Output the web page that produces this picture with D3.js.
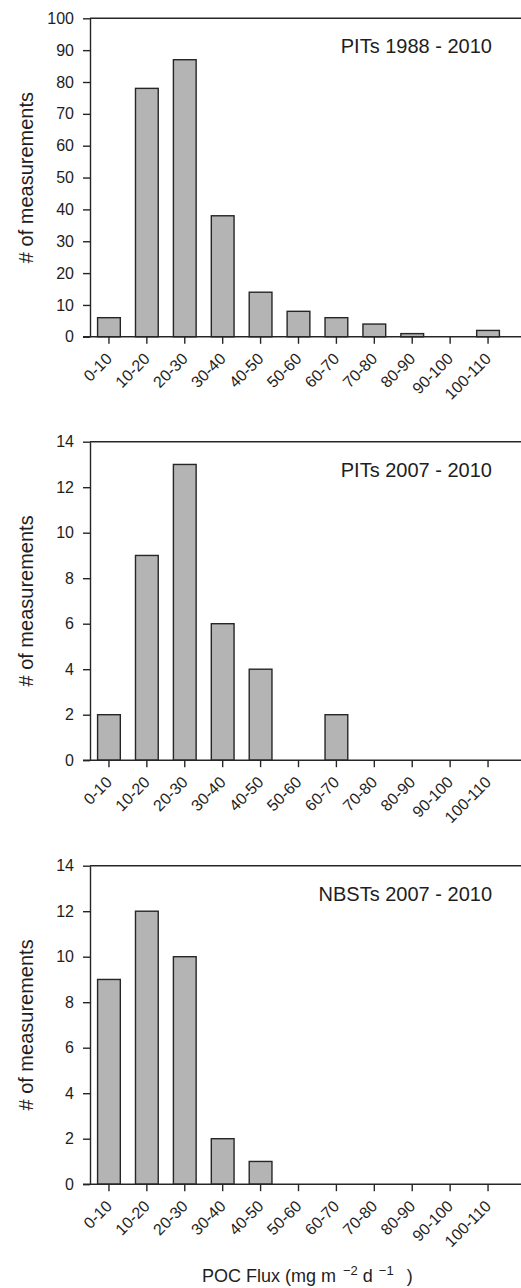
<!DOCTYPE html>
<html>
<head>
<meta charset="utf-8">
<script src="https://cdn.jsdelivr.net/npm/d3@7"></script>
<style>
  body { margin: 0; background: #fff; }
  text { font-family: "Liberation Sans", Arial, sans-serif; fill: #1e1e1e; }
</style>
</head>
<body>
<div id="chart"></div>
<script>
/* global d3 */

// Data
const categories = ['0-10', '10-20', '20-30', '30-40', '40-50', '50-60', '60-70', '70-80', '80-90', '90-100', '100-110']
const pits1988 = [6, 78, 87, 38, 14, 8, 6, 4, 1, 0, 2]
const pits2007 = [2, 9, 13, 6, 4, 0, 2, 0, 0, 0, 0]
const nbsts2007 = [9, 12, 10, 2, 1, 0, 0, 0, 0, 0, 0]
const ticks1988 = [0, 10, 20, 30, 40, 50, 60, 70, 80, 90, 100]
const ticks2007 = [0, 2, 4, 6, 8, 10, 12, 14]
const panelLabels = ['PITs 1988 - 2010', 'PITs 2007 - 2010', 'NBSTs 2007 - 2010']

// Our canvas
const width = 521,
  height = 1288,
  left = 90,
  right = 521,
  panelHeight = 318.5,
  tops = [18.3, 441.7, 865.7]

const panels = [
  { values: pits1988, ticks: ticks1988, label: panelLabels[0], top: tops[0] },
  { values: pits2007, ticks: ticks2007, label: panelLabels[1], top: tops[1] },
  { values: nbsts2007, ticks: ticks2007, label: panelLabels[2], top: tops[2] }
]

let svg = d3.select('#chart')
  .append('svg')
  .attr('width', width)
  .attr('height', height)

const xScale = d3.scaleBand()
  .domain(categories)
  .range([left, 507])
  .paddingInner(0.4)
  .paddingOuter(0.2)

let drawPanel = (p) => {
  const yScale = d3.scaleLinear()
    .domain([0, d3.max(p.ticks)])
    .range([p.top + panelHeight, p.top])

  let g = svg.append('g')

  // bars
  g.selectAll('rect')
    .data(p.values)
    .enter()
    .append('rect')
    .attr('x', (d, i) => xScale(categories[i]))
    .attr('y', (d) => yScale(d))
    .attr('width', xScale.bandwidth())
    .attr('height', (d) => yScale(0) - yScale(d))
    .attr('fill', '#b4b4b4')
    .attr('stroke', '#262626')
    .attr('stroke-width', 1.4)

  // y axis
  const yAxis = d3.axisLeft(yScale)
    .tickValues(p.ticks)
    .tickSize(7)
    .tickPadding(9)
    .tickSizeOuter(0)

  let ya = g.append('g')
    .attr('transform', `translate(${left}, 0)`)
    .call(yAxis)
  ya.selectAll('text').attr('font-size', 16).attr('font-family', null)
  ya.selectAll('line, path').attr('stroke', '#262626').attr('stroke-width', 1.4)

  // x axis
  const xAxis = d3.axisBottom(xScale)
    .tickSize(7)
    .tickSizeOuter(0)

  let xa = g.append('g')
    .attr('transform', `translate(0, ${yScale(0)})`)
    .call(xAxis)
  xa.select('.domain').remove()
  xa.selectAll('line').attr('stroke', '#262626').attr('stroke-width', 1.4)
  xa.selectAll('text')
    .attr('font-size', 16)
    .attr('font-family', null)
    .attr('text-anchor', 'end')
    .attr('y', null)
    .attr('dy', null)
    .attr('transform', 'translate(4, 23) rotate(-45)')

  // baseline and top frame line
  g.append('line')
    .attr('x1', left - 7).attr('x2', right)
    .attr('y1', yScale(0)).attr('y2', yScale(0))
    .attr('stroke', '#262626').attr('stroke-width', 1.4)
  g.append('line')
    .attr('x1', left).attr('x2', right)
    .attr('y1', yScale(d3.max(p.ticks))).attr('y2', yScale(d3.max(p.ticks)))
    .attr('stroke', '#262626').attr('stroke-width', 1.4)

  // panel label
  g.append('text')
    .attr('x', 492)
    .attr('y', p.top + 35)
    .attr('text-anchor', 'end')
    .attr('font-size', 20)
    .text(p.label)

  // y title
  g.append('text')
    .attr('transform', `translate(32.5, ${p.top + panelHeight / 2}) rotate(-90)`)
    .attr('text-anchor', 'middle')
    .attr('font-size', 20)
    .text('# of measurements')
}

panels.forEach(drawPanel)

// x title with superscripts
let xt = svg.append('text')
  .attr('x', 202)
  .attr('y', 1282)
  .attr('font-size', 18)
xt.append('tspan').text('POC Flux (mg m')
xt.append('tspan').attr('dx', 7).attr('dy', -7).attr('font-size', 13).text('\u22122')
xt.append('tspan').attr('dy', 7).text(' d')
xt.append('tspan').attr('dx', 6).attr('dy', -7).attr('font-size', 13).text('\u22121')
xt.append('tspan').attr('dx', 13).attr('dy', 7).text(')')
</script>
</body>
</html>
